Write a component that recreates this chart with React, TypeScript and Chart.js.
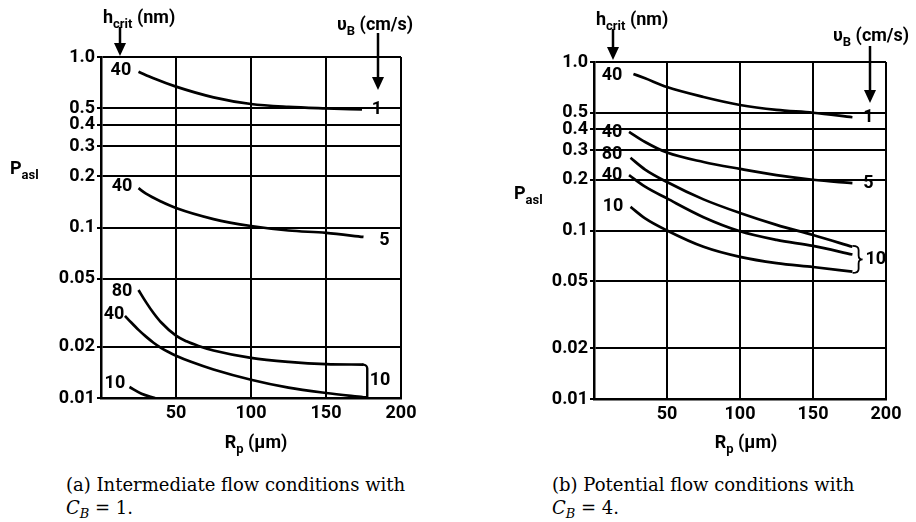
import React, { useEffect, useRef } from 'react';
import { Chart, registerables } from 'chart.js';

Chart.register(...registerables);

// ---------- shared axes ----------
const Y_TICKS = [1.0, 0.5, 0.4, 0.3, 0.2, 0.1, 0.05, 0.02, 0.01];
const Y_TICK_LABELS = ['1.0', '0.5', '0.4', '0.3', '0.2', '0.1', '0.05', '0.02', '0.01'];
const X_TICKS = [0, 50, 100, 150, 200];
const X_TICK_LABELS = ['', '50', '100', '150', '200'];

// ---------- (a) intermediate flow, C_B = 1 ----------
const A_V1_H40_X = [25, 35, 50, 75, 100, 125, 150, 174];
const A_V1_H40_Y = [0.82, 0.75, 0.67, 0.58, 0.53, 0.51, 0.5, 0.493];
const A_V5_H40_X = [25, 30, 40, 50, 75, 100, 125, 150, 175];
const A_V5_H40_Y = [0.17, 0.158, 0.142, 0.13, 0.112, 0.102, 0.096, 0.093, 0.088];
const A_V10_H80_X = [25, 30, 35, 40, 50, 57, 65, 75, 100, 125, 150, 175];
const A_V10_H80_Y = [0.043, 0.0365, 0.0315, 0.0278, 0.0232, 0.0215, 0.0202, 0.019, 0.0172, 0.0163, 0.0158, 0.0157];
const A_V10_H40_X = [16, 20, 25, 30, 35, 40, 45, 50, 60, 75, 100, 125, 150, 175];
const A_V10_H40_Y = [0.0303, 0.0278, 0.0251, 0.0229, 0.0211, 0.0197, 0.0186, 0.0177, 0.0163, 0.0147, 0.0128, 0.0115, 0.0107, 0.0101];
const A_V10_H10_X = [19, 27, 36];
const A_V10_H10_Y = [0.0116, 0.0106, 0.01];

const A_LABEL_TEXT = ['40', '1', '40', '5', '80', '40', '10', '10'];
const A_LABEL_X = [13.3, 184, 14, 189, 14, 8.7, 9.3, 186];
const A_LABEL_Y = [0.828, 0.495, 0.173, 0.084, 0.0424, 0.0307, 0.0122, 0.0126];
// bracket joining the v_B = 10 curve ends: x, top y, bottom y
const A_BRACKET = [177.5, 0.0157, 0.0101];

// ---------- (b) potential flow, C_B = 4 ----------
const B_V1_H40_X = [27, 35, 50, 75, 100, 125, 150, 177];
const B_V1_H40_Y = [0.85, 0.8, 0.71, 0.62, 0.556, 0.52, 0.5, 0.47];
const B_V5_H40_X = [24, 35, 50, 75, 100, 125, 150, 177];
const B_V5_H40_Y = [0.385, 0.335, 0.29, 0.255, 0.232, 0.213, 0.2, 0.191];
const B_V10_H80_X = [25, 35, 50, 75, 100, 125, 150, 177];
const B_V10_H80_Y = [0.27, 0.23, 0.194, 0.153, 0.127, 0.108, 0.094, 0.08];
const B_V10_H40_X = [24, 35, 50, 75, 100, 125, 150, 177];
const B_V10_H40_Y = [0.213, 0.182, 0.155, 0.12, 0.099, 0.088, 0.081, 0.072];
const B_V10_H10_X = [25, 35, 50, 75, 100, 125, 150, 177];
const B_V10_H10_Y = [0.138, 0.118, 0.1, 0.08, 0.0697, 0.064, 0.0607, 0.057];

const B_LABEL_TEXT = ['40', '1', '40', '80', '40', '10', '5', '10'];
const B_LABEL_X = [12.3, 188, 12.3, 12.3, 12.3, 13, 188, 193];
const B_LABEL_Y = [0.826, 0.471, 0.384, 0.281, 0.211, 0.138, 0.191, 0.067];
const B_BRACE = [178.5, 0.081, 0.056];

const SANS = 'Roboto, sans-serif';
const WEIGHT = 'bold';
const FS = 18;

type Series = { x: number[]; y: number[] };
type PanelCfg = {
  pageLeft: number;
  width: number;
  height: number;
  area: { left: number; top: number; right: number; bottom: number };
  series: Series[];
  labelText: string[];
  labelX: number[];
  labelY: number[];
  yTitle: [number, number];
  xTitle: [number, number];
  hcrit: { tx: number; ty: number; ax: number; a0: number; a1: number };
  vb: { tx: number; ty: number; ax: number; a0: number; a1: number };
  bracketKind: 'line' | 'brace';
  bracket: number[];
};

function drawSub(
  ctx: CanvasRenderingContext2D,
  main: string,
  sub: string,
  rest: string,
  x: number,
  y: number,
  size: number,
  align: 'left' | 'center' = 'left'
) {
  const mf = `${WEIGHT} ${size}px ${SANS}`;
  const sf = `${WEIGHT} ${Math.round(size * 0.72)}px ${SANS}`;
  ctx.textBaseline = 'alphabetic';
  ctx.textAlign = 'left';
  ctx.font = mf;
  const w1 = ctx.measureText(main).width;
  const w3 = ctx.measureText(rest).width;
  ctx.font = sf;
  const w2 = ctx.measureText(sub).width;
  let x0 = x;
  if (align === 'center') x0 = x - (w1 + w2 + w3) / 2;
  ctx.font = mf;
  ctx.fillText(main, x0, y);
  ctx.font = sf;
  ctx.fillText(sub, x0 + w1, y + size * 0.3);
  ctx.font = mf;
  ctx.fillText(rest, x0 + w1 + w2, y);
}

function arrow(ctx: CanvasRenderingContext2D, x: number, y0: number, y1: number) {
  ctx.lineWidth = 2.5;
  ctx.beginPath();
  ctx.moveTo(x, y0);
  ctx.lineTo(x, y1 - 10);
  ctx.stroke();
  ctx.beginPath();
  ctx.moveTo(x - 6, y1 - 13);
  ctx.lineTo(x + 6, y1 - 13);
  ctx.lineTo(x, y1);
  ctx.closePath();
  ctx.fill();
}

function overlay(cfg: PanelCfg) {
  return {
    id: 'overlay',
    afterDraw(chart: any) {
      const ctx: CanvasRenderingContext2D = chart.ctx;
      const xs = chart.scales.x;
      const ys = chart.scales.y;
      ctx.save();
      ctx.fillStyle = '#000';
      ctx.strokeStyle = '#000';
      // curve labels
      ctx.font = `${WEIGHT} ${FS}px ${SANS}`;
      ctx.textAlign = 'center';
      ctx.textBaseline = 'middle';
      cfg.labelText.forEach((t, i) => {
        ctx.fillText(t, xs.getPixelForValue(cfg.labelX[i]), ys.getPixelForValue(cfg.labelY[i]));
      });
      // bracket
      ctx.lineWidth = 2.4;
      const bx = xs.getPixelForValue(cfg.bracket[0]);
      const by1 = ys.getPixelForValue(cfg.bracket[1]);
      const by2 = ys.getPixelForValue(cfg.bracket[2]);
      if (cfg.bracketKind === 'line') {
        ctx.beginPath();
        ctx.moveTo(bx - 5, by1);
        ctx.arcTo(bx, by1, bx, by1 + 5, 4);
        ctx.lineTo(bx, by2);
        ctx.lineTo(bx - 6, by2);
        ctx.stroke();
      } else {
        const w = 4;
        const ym = (by1 + by2) / 2;
        ctx.lineWidth = 1.8;
        ctx.beginPath();
        ctx.moveTo(bx - 2, by1);
        ctx.quadraticCurveTo(bx + w, by1, bx + w, by1 + w);
        ctx.lineTo(bx + w, ym - w);
        ctx.quadraticCurveTo(bx + w, ym, bx + 2 * w, ym);
        ctx.quadraticCurveTo(bx + w, ym, bx + w, ym + w);
        ctx.lineTo(bx + w, by2 - w);
        ctx.quadraticCurveTo(bx + w, by2, bx - 2, by2);
        ctx.stroke();
      }
      // axis titles
      drawSub(ctx, 'P', 'asl', '', cfg.yTitle[0], cfg.yTitle[1] + 6, FS);
      drawSub(ctx, 'R', 'p', ' (\u00b5m)', cfg.xTitle[0], cfg.xTitle[1] + 5, FS, 'center');
      // h_crit label + arrow
      drawSub(ctx, 'h', 'crit', ' (nm)', cfg.hcrit.tx, cfg.hcrit.ty, FS);
      arrow(ctx, cfg.hcrit.ax, cfg.hcrit.a0, cfg.hcrit.a1);
      // v_B label + arrow
      drawSub(ctx, '\u03c5', 'B', ' (cm/s)', cfg.vb.tx, cfg.vb.ty, FS);
      arrow(ctx, cfg.vb.ax, cfg.vb.a0, cfg.vb.a1);
      ctx.restore();
    },
  };
}

function Panel({ cfg }: { cfg: PanelCfg }) {
  const ref = useRef<HTMLCanvasElement>(null);
  useEffect(() => {
    const canvas = ref.current!;
    const tickFont = { family: SANS, size: FS, weight: WEIGHT as any };
    const chart = new Chart(canvas, {
      type: 'line',
      data: {
        datasets: cfg.series.map((s) => ({
          data: s.x.map((x, i) => ({ x, y: s.y[i] })),
          borderColor: '#000',
          borderWidth: 2.7,
          pointRadius: 0,
          fill: false,
          cubicInterpolationMode: 'monotone' as const,
        })),
      },
      options: {
        responsive: false,
        animation: false,
        layout: {
          padding: { left: 0, top: cfg.area.top, right: cfg.width - cfg.area.right, bottom: 0 },
        },
        plugins: { legend: { display: false }, tooltip: { enabled: false } },
        scales: {
          x: {
            type: 'linear',
            min: 0,
            max: 200,
            afterBuildTicks: (s: any) => {
              s.ticks = X_TICKS.map((v) => ({ value: v }));
            },
            afterFit: (s: any) => {
              s.height = cfg.height - cfg.area.bottom;
            },
            ticks: {
              callback: (v: any) => X_TICK_LABELS[X_TICKS.indexOf(Number(v))] ?? '',
              font: tickFont,
              color: '#000',
              padding: 5,
              maxRotation: 0,
              autoSkip: false,
            },
            grid: { color: '#000', lineWidth: 2, drawTicks: false },
            border: { color: '#000', width: 2.5 },
          },
          y: {
            type: 'logarithmic',
            min: 0.01,
            max: 1,
            afterBuildTicks: (s: any) => {
              s.ticks = Y_TICKS.map((v) => ({ value: v }));
            },
            afterFit: (s: any) => {
              s.width = cfg.area.left;
            },
            ticks: {
              callback: (v: any) => Y_TICK_LABELS[Y_TICKS.indexOf(Number(v))] ?? '',
              font: tickFont,
              color: '#000',
              padding: 2,
              autoSkip: false,
            },
            grid: { color: '#000', lineWidth: 2, tickLength: 4 },
            border: { color: '#000', width: 2.5 },
          },
        },
      } as any,
      plugins: [overlay(cfg)],
    });
    return () => {
      chart.destroy();
    };
  }, []);
  return (
    <canvas
      ref={ref}
      width={cfg.width}
      height={cfg.height}
      style={{ position: 'absolute', left: cfg.pageLeft, top: 0, width: cfg.width, height: cfg.height }}
    />
  );
}

const PANEL_A: PanelCfg = {
  pageLeft: 0,
  width: 458,
  height: 470,
  area: { left: 101, top: 57, right: 401, bottom: 398 },
  series: [
    { x: A_V1_H40_X, y: A_V1_H40_Y },
    { x: A_V5_H40_X, y: A_V5_H40_Y },
    { x: A_V10_H80_X, y: A_V10_H80_Y },
    { x: A_V10_H40_X, y: A_V10_H40_Y },
    { x: A_V10_H10_X, y: A_V10_H10_Y },
  ],
  labelText: A_LABEL_TEXT,
  labelX: A_LABEL_X,
  labelY: A_LABEL_Y,
  yTitle: [10, 168],
  xTitle: [256, 443],
  hcrit: { tx: 103, ty: 23, ax: 120, a0: 27, a1: 56 },
  vb: { tx: 337, ty: 30, ax: 378, a0: 33, a1: 90 },
  bracketKind: 'line',
  bracket: A_BRACKET,
};

const PANEL_B: PanelCfg = {
  pageLeft: 458,
  width: 458,
  height: 470,
  area: { left: 136, top: 62, right: 428, bottom: 399 },
  series: [
    { x: B_V1_H40_X, y: B_V1_H40_Y },
    { x: B_V5_H40_X, y: B_V5_H40_Y },
    { x: B_V10_H80_X, y: B_V10_H80_Y },
    { x: B_V10_H40_X, y: B_V10_H40_Y },
    { x: B_V10_H10_X, y: B_V10_H10_Y },
  ],
  labelText: B_LABEL_TEXT,
  labelX: B_LABEL_X,
  labelY: B_LABEL_Y,
  yTitle: [56, 193],
  xTitle: [288, 443],
  hcrit: { tx: 138, ty: 25, ax: 155, a0: 29, a1: 60 },
  vb: { tx: 375, ty: 41, ax: 412, a0: 46, a1: 103 },
  bracketKind: 'brace',
  bracket: B_BRACE,
};

const captionStyle: React.CSSProperties = {
  position: 'absolute',
  top: 473,
  fontFamily: '"DejaVu Serif", "Liberation Serif", serif',
  fontSize: 18,
  lineHeight: '23px',
  color: '#000',
  whiteSpace: 'nowrap',
};

function Caption({ left, head, cb }: { left: number; head: string; cb: string }) {
  return (
    <div style={{ ...captionStyle, left }}>
      <div>{head}</div>
      <div>
        <i>C</i>
        <sub style={{ fontSize: '0.72em', fontStyle: 'italic', verticalAlign: '-0.3em' }}>B</sub>
        {' = ' + cb + '.'}
      </div>
    </div>
  );
}

export default function App() {
  return (
    <div style={{ position: 'absolute', left: 0, top: 0, width: 916, height: 522, background: '#fff' }}>
      <Panel cfg={PANEL_A} />
      <Panel cfg={PANEL_B} />
      <Caption left={66} head="(a) Intermediate flow conditions with" cb="1" />
      <Caption left={552} head="(b) Potential flow conditions with" cb="4" />
    </div>
  );
}
